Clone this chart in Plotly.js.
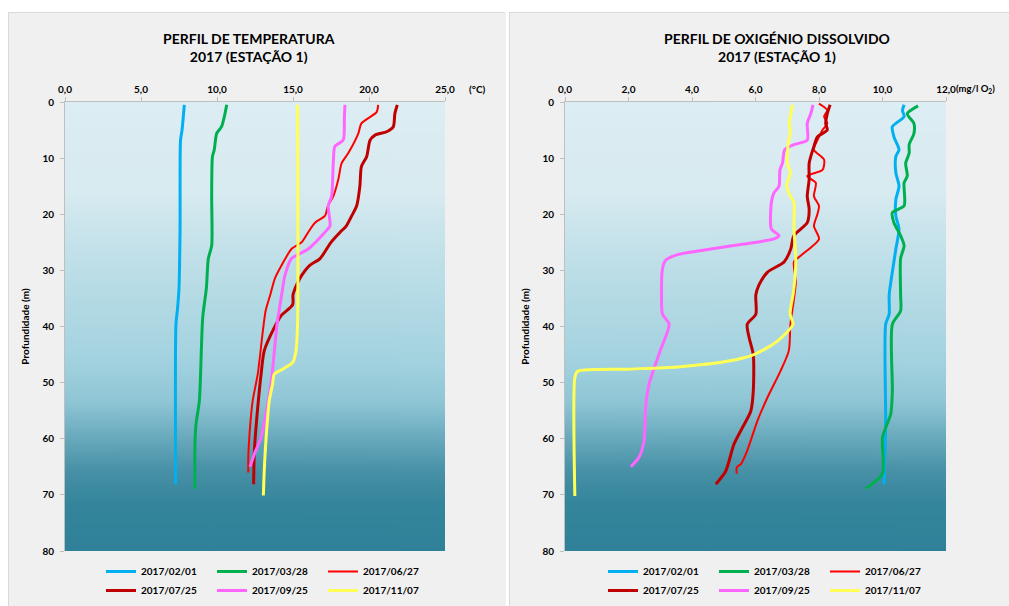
<!DOCTYPE html>
<html><head><meta charset="utf-8">
<script src="https://cdn.plot.ly/plotly-3.0.1.min.js"></script>
<style>
html,body{margin:0;padding:0;background:#ffffff;width:1009px;height:606px;overflow:hidden;}
#c1{position:absolute;left:8px;top:12px;width:497px;height:594px;}
#c2{position:absolute;left:509px;top:12px;width:500px;height:594px;}
.pan{box-sizing:border-box;border:1px solid #d9d9d9;}
</style></head>
<body>
<div id="c1" class="pan"></div>
<div id="c2" class="pan"></div>
<script>
// ---------- DATA ----------
const seriesNames = ["2017/02/01","2017/03/28","2017/06/27","2017/07/25","2017/09/25","2017/11/07"];
const seriesColors = ["#00b0f0","#00b050","#ff0000","#c00000","#ff66ff","#ffff55"];
const seriesWidths = [3,3,2,3,3,3];

// Temperature profiles (°C) with depth (m)
const tempD_0201 = [0.5,5,6.8,22.6,33.2,36.9,39.6,68.1];
const tempV_0201 = [7.85,7.7,7.6,7.57,7.5,7.4,7.3,7.28];
const tempD_0328 = [0.5,2.4,4.4,5.6,8.5,9.7,16.8,25.6,27.9,33.2,38.4,53.2,57.4,60.9,68.9];
const tempV_0328 = [10.64,10.5,10.3,9.98,9.82,9.7,9.65,9.65,9.43,9.3,9.06,8.84,8.62,8.55,8.55];
const tempD_0627 = [0.5,1.8,3.8,5.6,9.1,10.9,13.8,16.8,18.5,20.3,21.5,23.2,25.0,26.2,29.1,31.5,34.4,37.2,41.4,48.5,53.2,57.4,63.3,66.0];
const tempV_0627 = [20.6,20.5,19.5,19.3,18.64,18.2,17.98,17.65,17.3,17.1,16.45,16.0,15.57,14.9,14.25,13.8,13.5,13.2,12.99,12.68,12.35,12.19,12.06,12.06];
const tempD_0725 = [0.5,2.1,4.4,5.3,5.9,6.8,9.7,11.5,15.0,18.5,20.3,22.1,23.2,25.0,27.9,29.1,30.9,32.6,34.4,36.1,38.1,40.2,44.3,48.5,54.4,62.1,68.1];
const tempV_0725 = [21.86,21.7,21.6,21.16,20.4,20.07,19.85,19.5,19.4,19.19,18.86,18.5,18.1,17.5,16.78,16.1,15.57,15.24,15.0,14.98,14.21,13.77,13.11,12.9,12.68,12.46,12.41];
const tempD_0925 = [0.5,2.6,6.8,7.9,10.9,16.8,18.5,22.1,23.2,26.2,27.9,30.9,34.4,39.6,50.2,59.7,62.7,65.0];
const tempV_0925 = [18.42,18.38,18.3,17.76,17.65,17.54,17.32,17.43,17.1,16.0,14.9,14.47,14.25,13.95,13.55,12.9,12.46,12.17];
const tempD_1107 = [0.5,39.6,44.3,46.4,47.6,48.5,50.2,53.2,60.3,65.6,70.1];
const tempV_1107 = [15.3,15.3,15.2,14.98,14.32,13.77,13.66,13.44,13.22,13.11,13.05];

// Dissolved oxygen profiles (mg/l O2) with depth (m)
const oxyD_0201 = [0.5,1.5,2.6,4.4,6.2,8.5,9.7,12.6,15.0,17.4,20.3,22.6,26.2,30.3,34.4,37.8,39.6,57.4,68.1];
const oxyV_0201 = [10.68,10.63,10.68,10.31,10.36,10.52,10.42,10.42,10.52,10.42,10.42,10.52,10.42,10.31,10.21,10.21,10.1,10.1,10.05];
const oxyD_0328 = [0.7,2.1,3.8,5.6,7.6,9.1,10.9,13.2,14.4,18.5,19.7,21.5,23.8,25.6,27.9,34.4,37.2,39.6,51.5,55.6,59.7,66.2,68.9];
const oxyV_0328 = [11.12,10.78,10.99,10.99,10.84,10.84,10.73,10.78,10.68,10.68,10.31,10.36,10.57,10.68,10.57,10.57,10.57,10.31,10.31,10.26,10.0,10.0,9.47];
const oxyD_0627 = [0.3,0.9,1.5,2.6,3.8,5.0,6.8,8.5,10.3,12.1,13.2,14.4,16.8,18.5,20.0,22.1,24.4,27.4,28.5,32.1,39.6,44.3,47.9,52.6,56.8,62.1,64.5,65.1,66.2];
const oxyV_0627 = [8.0,8.16,8.26,8.16,8.26,8.11,7.95,7.84,8.16,8.11,7.63,7.9,7.84,8.0,7.95,7.84,8.0,7.42,7.21,7.27,7.1,7.05,6.79,6.38,6.06,5.74,5.54,5.41,5.41];
const oxyD_0725 = [0.5,2.1,3.8,5.0,6.2,7.9,10.9,13.8,16.8,19.1,21.5,23.8,26.2,28.5,30.3,32.6,34.4,37.8,39.6,42.0,45.0,51.5,55.1,58.0,61.0,65.8,68.1];
const oxyV_0725 = [8.35,8.26,8.21,8.26,7.95,7.84,7.69,7.69,7.63,7.69,7.63,7.21,7.11,6.9,6.38,6.11,6.01,6.01,5.74,5.8,5.93,5.93,5.85,5.59,5.32,5.06,4.75];
const oxyD_0925 = [0.5,2.1,3.8,6.8,7.6,8.5,10.9,12.1,15.0,16.2,17.9,22.6,23.8,24.4,25.3,26.2,27.2,28.2,29.7,34.4,37.8,39.6,44.3,50.2,54.4,60.3,63.3,65.0];
const oxyV_0925 = [7.81,7.74,7.63,7.63,7.21,6.92,6.85,6.77,6.74,6.58,6.5,6.5,6.74,6.58,5.64,4.59,3.54,3.17,3.07,3.04,3.07,3.28,3.0,2.65,2.54,2.49,2.33,2.07];
const oxyD_1107 = [0.5,2.6,3.8,5.0,7.9,10.9,12.6,15.0,16.8,17.9,22.6,28.5,33.7,37.8,39.6,42.6,45.0,46.2,47.2,47.6,48.0,49.1,70.2];
const oxyV_1107 = [7.16,7.1,7.06,7.1,7.02,7.0,7.1,6.98,7.1,7.21,7.21,7.27,7.2,7.09,7.18,6.69,5.95,5.11,3.54,1.96,0.39,0.31,0.31];

const depthTicks = [0,10,20,30,40,50,60,70,80];
const tempTicks = [0,5,10,15,20,25];
const oxyTicks = [0,2,4,6,8,10,12];

const tempSeries = [[tempV_0201,tempD_0201],[tempV_0328,tempD_0328],[tempV_0627,tempD_0627],[tempV_0725,tempD_0725],[tempV_0925,tempD_0925],[tempV_1107,tempD_1107]];
const oxySeries = [[oxyV_0201,oxyD_0201],[oxyV_0328,oxyD_0328],[oxyV_0627,oxyD_0627],[oxyV_0725,oxyD_0725],[oxyV_0925,oxyD_0925],[oxyV_1107,oxyD_1107]];

// ---------- background gradient ----------
function gradientURL(){
  const cv=document.createElement('canvas'); cv.width=4; cv.height=450;
  const g=cv.getContext('2d'); const gr=g.createLinearGradient(0,0,0,450);
  [[0,'#dcedf3'],[0.2,'#d8ebf1'],[0.28,'#cae4ec'],[0.43,'#b5dbe5'],[0.58,'#a2d2df'],[0.67,'#8ec5d5'],[0.75,'#68a9bc'],[0.82,'#4891a7'],[0.89,'#35869c'],[1,'#2f8199']]
    .forEach(s=>gr.addColorStop(s[0],s[1]));
  g.fillStyle=gr; g.fillRect(0,0,4,450); return cv.toDataURL();
}
const bg = gradientURL();
const FONT = 'Lato, "Liberation Sans", sans-serif';
const PH = 594, TOPM = 89, PLOTH = 449;

function build(div, series, xTicks, xRange, W, margins, titleText, titleX, unitText, unitPx, unitSize, legendX){
  const plotW = W - margins.l - margins.r;
  const traces = series.map((s,i)=>({
    type:'scatter', mode:'lines', x:s[0], y:s[1], name:seriesNames[i],
    line:{color:seriesColors[i], width:seriesWidths[i], shape:'spline', smoothing:0.7}
  }));
  const layout = {
    width:W, height:PH, paper_bgcolor:'#f0f0f0', plot_bgcolor:'rgba(0,0,0,0)',
    separators:',.',
    margin:margins,
    font:{family:FONT, color:'#000', size:10, weight:'bold'},
    xaxis:{side:'top', range:xRange, tickvals:xTicks, tickformat:'.1f', ticks:'outside', ticklen:4, tickcolor:'#bfbfbf',
      showline:true, linecolor:'#bfbfbf', linewidth:1, showgrid:false, zeroline:false,
      tickfont:{family:FONT, size:10, color:'#000', weight:'bold'}},
    yaxis:{range:[80,0], tickvals:depthTicks, ticks:'outside', ticklen:4, tickcolor:'#bfbfbf', ticklabelstandoff:4,
      showline:true, linecolor:'#bfbfbf', linewidth:1, showgrid:false, zeroline:false,
      tickfont:{family:FONT, size:10, color:'#000', weight:'bold'},
      title:{text:'Profundidade (m)', standoff:10, font:{family:FONT, size:10, color:'#000', weight:'bold'}}},
    images:[{source:bg, xref:'paper', yref:'paper', x:0, y:1, sizex:1, sizey:1, sizing:'stretch', layer:'below'}],
    annotations:[
      {text:titleText, xref:'paper', yref:'paper', x:(titleX*W - margins.l)/plotW, y:1 + (TOPM-(47-12))/PLOTH,
       xanchor:'center', yanchor:'middle', showarrow:false, font:{family:FONT, size:14, color:'#000', weight:'bold'}},
      {text:unitText, xref:'paper', yref:'paper', x:(unitPx - margins.l)/plotW, y:1 + (TOPM-76)/PLOTH,
      xanchor:'left', yanchor:'middle',
      showarrow:false, font:{family:FONT, size:unitSize, color:'#000', weight:'bold'}}],
    showlegend:true,
    legend:{orientation:'h', xref:'container', yref:'container', x:legendX, xanchor:'left', y:1-(544)/PH, yanchor:'top',
      entrywidth:66, entrywidthmode:'pixels', traceorder:'normal', bgcolor:'rgba(0,0,0,0)', tracegroupgap:0,
      font:{family:FONT, size:10, color:'#000', weight:'bold'}}
  };
  Plotly.newPlot(div, traces, layout, {staticPlot:true, displayModeBar:false});
}

build('c1', tempSeries, tempTicks, [0,25], 497, {l:56,r:61,t:89,b:56},
  'PERFIL DE TEMPERATURA<br>2017 (ESTAÇÃO 1)', 240/497, '(°C)', 466-8, 10, 92/497);
build('c2', oxySeries, oxyTicks, [0,12], 500, {l:55,r:64,t:89,b:56},
  'PERFIL DE OXIGÉNIO DISSOLVIDO<br>2017 (ESTAÇÃO 1)', 267/500, '(mg/l O<sub>2</sub>)', 953-509, 9.5, 93/500);
</script>
</body></html>
